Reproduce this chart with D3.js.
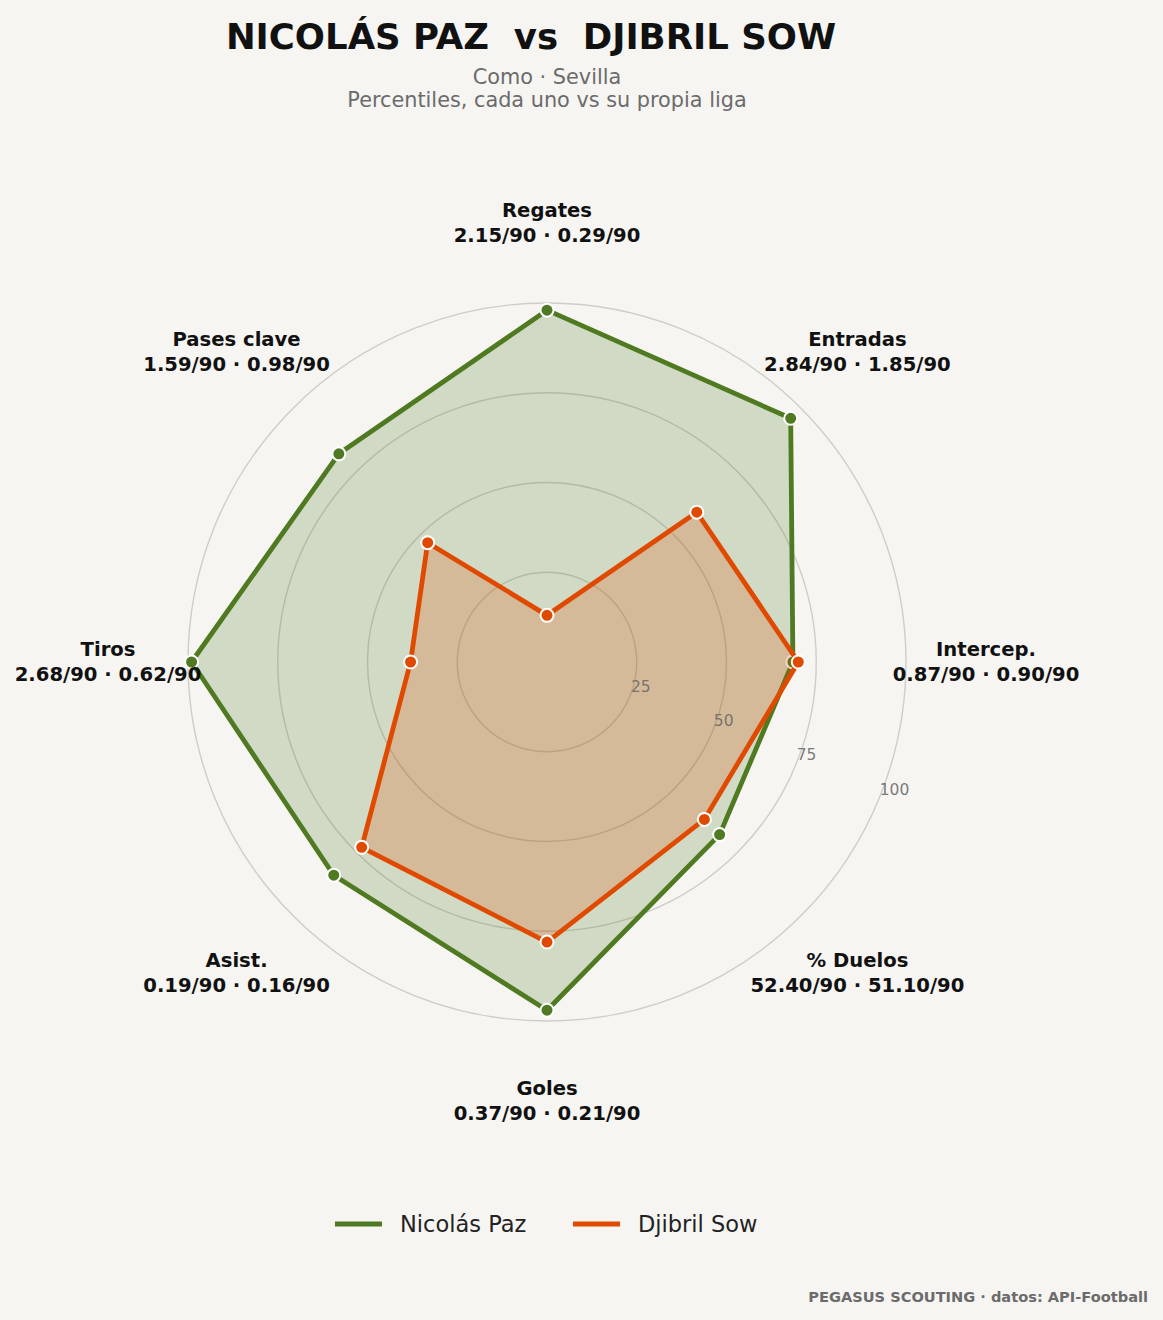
<!DOCTYPE html>
<html>
<head>
<meta charset="utf-8">
<script src="https://cdn.jsdelivr.net/npm/d3@7"></script>
<style>
  body { margin: 0; background: #f6f5f2; }
  svg { display: block; font-family: "DejaVu Sans", sans-serif; }
</style>
</head>
<body>
<div id="chart"></div>
<script>
// axis order, clockwise from top
const metrics = ["Regates", "Entradas", "Intercep.", "% Duelos", "Goles", "Asist.", "Tiros", "Pases clave"];
const pazRaw = ["2.15", "2.84", "0.87", "52.40", "0.37", "0.19", "2.68", "1.59"];
const sowRaw = ["0.29", "1.85", "0.90", "51.10", "0.21", "0.16", "0.62", "0.98"];
const pazPct = [98, 96, 68.5, 68, 97, 84, 99, 82];
const sowPct = [13, 59, 70, 62, 78, 73, 38, 47];
const ringTicks = [25, 50, 75, 100];

const players = [
  { name: "Nicolás Paz", values: pazPct, color: "#4f7a21" },
  { name: "Djibril Sow", values: sowPct, color: "#e04a00" }
];

const width = 1163, height = 1320,
  cx = 547, cy = 662,
  outerR = 359,
  labelR = 439;

const svg = d3.select("#chart").append("svg")
  .attr("width", width)
  .attr("height", height);

svg.append("rect").attr("width", width).attr("height", height).attr("fill", "#f6f5f2");

const r = d3.scaleLinear().domain([0, 100]).range([0, outerR]);
const angle = d3.scaleLinear().domain([0, metrics.length]).range([0, 2 * Math.PI]);

const g = svg.append("g").attr("transform", `translate(${cx},${cy})`);

// rings
g.selectAll("circle.ring")
  .data(ringTicks)
  .enter().append("circle")
    .attr("class", "ring")
    .attr("r", d => r(d))
    .attr("fill", "none")
    .attr("stroke", "#cfcdc8")
    .attr("stroke-width", 1.4);

const pt = (v, i) => {
  const a = angle(i);
  return [r(v) * Math.sin(a), -r(v) * Math.cos(a)];
};

const line = d3.lineRadial()
  .angle((d, i) => angle(i))
  .radius(d => r(d))
  .curve(d3.curveLinearClosed);

players.forEach(p => {
  g.append("path")
    .attr("d", line(p.values))
    .attr("fill", p.color)
    .attr("fill-opacity", 0.22)
    .attr("stroke", "none");
  g.append("path")
    .attr("d", line(p.values))
    .attr("fill", "none")
    .attr("stroke", p.color)
    .attr("stroke-width", 4.8)
    .attr("stroke-linejoin", "round");
  g.selectAll(null)
    .data(p.values)
    .enter().append("circle")
      .attr("cx", (d, i) => pt(d, i)[0])
      .attr("cy", (d, i) => pt(d, i)[1])
      .attr("r", 6.5)
      .attr("fill", p.color)
      .attr("stroke", "#ffffff")
      .attr("stroke-width", 2);
});

// ring tick labels along 112.5deg
const tickA = 112.5 * Math.PI / 180;
g.selectAll("text.tick")
  .data(ringTicks)
  .enter().append("text")
    .attr("class", "tick")
    .attr("x", d => r(d) * Math.sin(tickA) + 1)
    .attr("y", d => -r(d) * Math.cos(tickA) - 10)
    .attr("dy", "0.35em")
    .attr("font-size", 15.5)
    .attr("fill", "#6a6a6a")
    .attr("fill-opacity", 0.9)
    .text(d => d);

// axis labels
const lab = g.selectAll("g.lab")
  .data(metrics)
  .enter().append("g")
    .attr("class", "lab")
    .attr("transform", (d, i) => {
      const a = angle(i);
      return `translate(${labelR * Math.sin(a)},${-labelR * Math.cos(a)})`;
    });

lab.append("text")
  .attr("text-anchor", "middle")
  .attr("y", -12.5)
  .attr("dy", "0.35em")
  .attr("font-size", 19.6)
  .attr("font-weight", "bold")
  .attr("fill", "#111")
  .text(d => d);

lab.append("text")
  .attr("text-anchor", "middle")
  .attr("y", 12.5)
  .attr("dy", "0.35em")
  .attr("font-size", 19.6)
  .attr("font-weight", "bold")
  .attr("fill", "#111")
  .text((d, i) => `${pazRaw[i]}/90 · ${sowRaw[i]}/90`);

// titles
svg.append("text")
  .attr("x", 531).attr("y", 37)
  .attr("dy", "0.35em")
  .attr("text-anchor", "middle")
  .attr("font-size", 35.5)
  .attr("font-weight", "bold")
  .attr("fill", "#111")
  .style("white-space", "pre")
  .text("NICOLÁS PAZ  vs  DJIBRIL SOW");

svg.append("text")
  .attr("x", 547).attr("y", 77)
  .attr("dy", "0.35em")
  .attr("text-anchor", "middle")
  .attr("font-size", 20.8)
  .attr("fill", "#6b6b6b")
  .text("Como · Sevilla");

svg.append("text")
  .attr("x", 547).attr("y", 100)
  .attr("dy", "0.35em")
  .attr("text-anchor", "middle")
  .attr("font-size", 20.8)
  .attr("fill", "#6b6b6b")
  .text("Percentiles, cada uno vs su propia liga");

// legend
const legX = [335, 573];
const leg = svg.selectAll("g.leg")
  .data(players)
  .enter().append("g")
    .attr("class", "leg")
    .attr("transform", (d, i) => `translate(${legX[i]},1224)`);

leg.append("line")
  .attr("x1", 0).attr("x2", 47)
  .attr("stroke", d => d.color)
  .attr("stroke-width", 4.8);

leg.append("text")
  .attr("x", 65)
  .attr("dy", "0.35em")
  .attr("font-size", 22.5)
  .attr("fill", "#222")
  .text(d => d.name);

// footer
svg.append("text")
  .attr("x", 1148).attr("y", 1297)
  .attr("dy", "0.35em")
  .attr("text-anchor", "end")
  .attr("font-size", 14.6)
  .attr("font-weight", "bold")
  .attr("fill", "#6b6b6b")
  .text("PEGASUS SCOUTING · datos: API-Football");
</script>
</body>
</html>
